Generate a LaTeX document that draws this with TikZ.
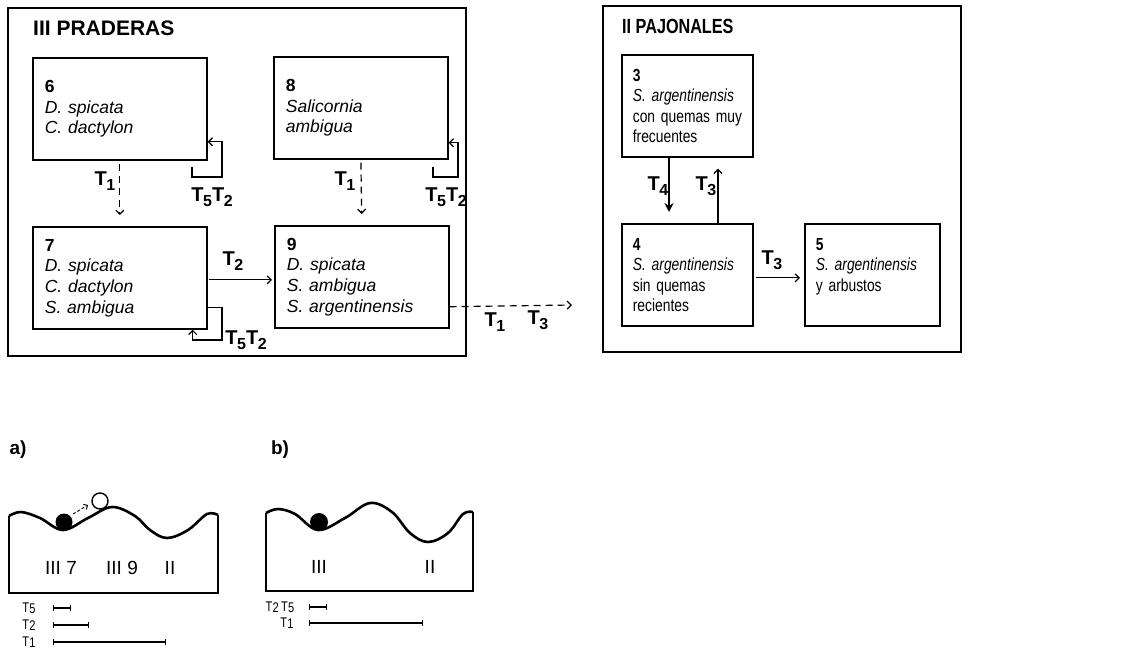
\documentclass[tikz,border=0pt]{standalone}
\usepackage{fontspec}
\setmainfont{Liberation Sans}
\newfontfamily\narrowfont{Liberation Sans}[FakeStretch=0.79]
\usetikzlibrary{arrows.meta,calc}
\newcommand{\Tsub}[1]{T\kern-0.02em\raisebox{-5pt}{\fontsize{16}{16}\selectfont #1}}
\newcommand{\Tsm}[1]{T\kern0.02em\raisebox{-1pt}{#1}}
\tikzset{
  frame/.style={draw, line width=1.5pt},
  stbox/.style={draw, line width=1.7pt, anchor=north west, align=left,
    minimum width=174pt, minimum height=102pt, text width=150pt, inner xsep=12pt,
    font=\fontsize{17.5}{20.7}\selectfont},
  pjbox/.style={draw, line width=1.7pt, anchor=north west, align=left,
    minimum width=131pt, minimum height=102pt, text width=109pt, inner xsep=11pt,
    font=\narrowfont\fontsize{17.5}{20.5}\selectfont},
  tlab/.style={font=\bfseries\fontsize{20}{20}\selectfont, inner sep=0pt},
  title/.style={anchor=west, inner sep=0pt},
  arr/.style={line width=1.2pt, -{Straight Barb[length=4pt,width=8pt]}},
  dsh/.style={dash pattern=on 7pt off 5pt},
  wave/.style={line width=2.6pt, line join=round},
  ground/.style={line width=1.5pt},
  rng/.style={line width=1.1pt, {Bar[width=6pt]}-{Bar[width=6pt]}},
  lowlab/.style={font=\fontsize{19}{19}\selectfont, inner sep=0pt},
  rlab/.style={font=\narrowfont\fontsize{14}{14}\selectfont, inner sep=0pt},
  panlab/.style={font=\bfseries\fontsize{19}{19}\selectfont, inner sep=0pt}
}
\begin{document}
\begin{tikzpicture}[x=1pt,y=-1pt]
\useasboundingbox (0,0) rectangle (1124,649);

% ---------- III PRADERAS ----------
\node[frame, anchor=north west, minimum width=458pt, minimum height=348pt, inner sep=0pt] (F3) at (7,7) {};
\node[title, font=\bfseries\fontsize{21}{21}\selectfont] (ti3) at (33,28) {III PRADERAS};

\node[stbox] (b6) at (32,57) {\textbf{6}\\\textit{D. spicata}\\\textit{C. dactylon}};
\node[stbox] (b8) at (273,56) {\textbf{8}\\\textit{Salicornia}\\\textit{ambigua}};
\node[stbox] (b7) at (32,226) {\textbf{7}\\\textit{D. spicata}\\\textit{C. dactylon}\\\textit{S. ambigua}};
\node[stbox] (b9) at (274,225) {\textbf{9}\\\textit{D. spicata}\\\textit{S. ambigua}\\\textit{S. argentinensis}};

% T1 dashed arrows
\draw[arr, dsh, shorten <=3pt, shorten >=11pt] (b6.south) -- (b7.north);
\node[tlab] (l61) at (105,181) {\Tsub{1}};
\draw[arr, dsh, shorten <=3pt, shorten >=11pt] (b8.south) -- (b9.north);
\node[tlab] (l81) at (345,181) {\Tsub{1}};

% self loops
\coordinate (l6s) at (192,167);
\coordinate (l6c) at (222,177);
\draw[arr] (l6s) |- (l6c) |- ($(b6.south east)+(0,-19)$);
\node[tlab] (l6t) at (212,197) {\Tsub{5}\Tsub{2}};

\coordinate (l8s) at (433,167);
\coordinate (l8c) at (458,177);
\draw[arr] (l8s) |- (l8c) |- ($(b8.south east)+(0,-17)$);
\node[tlab] (l8t) at (446,197) {\Tsub{5}\Tsub{2}};

\coordinate (l7c) at (222,340);
\draw[arr] ($(b7.south east)+(0,-22)$) -| (l7c) -| ($(b7.south east)+(-15,0)$);
\node[tlab] (l7t) at (246,340) {\Tsub{5}\Tsub{2}};

% T2 7 -> 9
\draw[arr, shorten <=1pt, shorten >=2pt] ($(b7.east)+(0,2)$) -- ($(b9.west)+(0,3)$);
\node[tlab] (l79) at (233,261) {\Tsub{2}};

% dashed 9 -> II
\coordinate (dend) at (572,305);
\draw[arr, dsh] ($(b9.south east)+(0,-22)$) -- (dend);
\node[tlab] (ld1) at (495,322) {\Tsub{1}};
\node[tlab] (ld3) at (538,320) {\Tsub{3}};

% ---------- II PAJONALES ----------
\node[frame, anchor=north west, minimum width=358pt, minimum height=346pt, inner sep=0pt] (F2) at (602,5) {};
\node[title, font=\narrowfont\bfseries\fontsize{20.5}{20.5}\selectfont] (ti2) at (622,26) {II PAJONALES};

\node[pjbox] (b3) at (621,54) {\textbf{3}\\\textit{S. argentinensis}\\\mbox{con quemas muy}\\frecuentes};
\node[pjbox] (b4) at (621,223) {\textbf{4}\\\textit{S. argentinensis}\\sin quemas\\recientes};
\node[pjbox, minimum width=135pt, text width=113pt] (b5) at (804,223) {\textbf{5}\\\textit{S. argentinensis}\\y arbustos\\\mbox{}};

\draw[line width=2.2pt, -{Stealth[length=9pt,width=9pt]}] ($(b3.south west)+(48,0)$) -- ($(b4.north west)+(48,-11)$);
\node[tlab] (l34) at (658,186) {\Tsub{4}};
\draw[arr] ($(b4.north west)+(97,0)$) -- ($(b3.south west)+(97,11)$);
\node[tlab] (l43) at (706,186) {\Tsub{3}};
\draw[arr, shorten <=2pt, shorten >=4pt] ($(b4.east)+(0,3)$) -- ($(b5.west)+(0,3)$);
\node[tlab] (l45) at (772,260) {\Tsub{3}};

% ---------- panel a ----------
\node[panlab] (pa) at (18,450) {a)};
\draw[ground] (9,516) -- (9,593) -- (218,593) -- (218,515);
\draw[wave] plot[smooth, tension=0.6] coordinates {(9,516) (21,512) (40,518) (63,530) (88,518) (112,507) (135,516) (150,530) (167,538) (188,530) (207,514) (218,515)};
\fill (64,522) circle (8.5pt);
\draw[line width=1.4pt] (100,501) circle (8pt);
\draw[line width=0.9pt, dash pattern=on 3pt off 2pt, -{Straight Barb[length=3pt,width=6pt]}] (73,514) -- (88,505);
\node[lowlab] (a1) at (61,568) {III 7};
\node[lowlab] (a2) at (122,568) {III 9};
\node[lowlab] (a3) at (170,568) {II};
\node[rlab] (ar5) at (29,608) {\Tsm{5}};
\draw[rng] (53,608) -- (71,608);
\node[rlab] (ar2) at (29,625) {\Tsm{2}};
\draw[rng] (53,625) -- (89,625);
\node[rlab] (ar1) at (29,642) {\Tsm{1}};
\draw[rng] (53,642) -- (166,642);

% ---------- panel b ----------
\node[panlab] (pb) at (280,450) {b)};
\draw[ground] (266,513) -- (266,591) -- (473,591) -- (473,512);
\draw[wave] plot[smooth, tension=0.6] coordinates {(266,513) (278,509) (295,514) (318,530) (345,518) (370,503) (392,512) (410,533) (428,542) (448,533) (463,514) (473,512)};
\fill (319,522) circle (9pt);
\node[lowlab] (b1) at (319,567) {III};
\node[lowlab] (b2) at (430,567) {II};
\node[rlab] (br25) at (280,607) {\Tsm{2}\,\Tsm{5}};
\draw[rng] (309,607) -- (327,607);
\node[rlab] (br1) at (287,623) {\Tsm{1}};
\draw[rng] (309,623) -- (423,623);
\end{tikzpicture}
\end{document}
